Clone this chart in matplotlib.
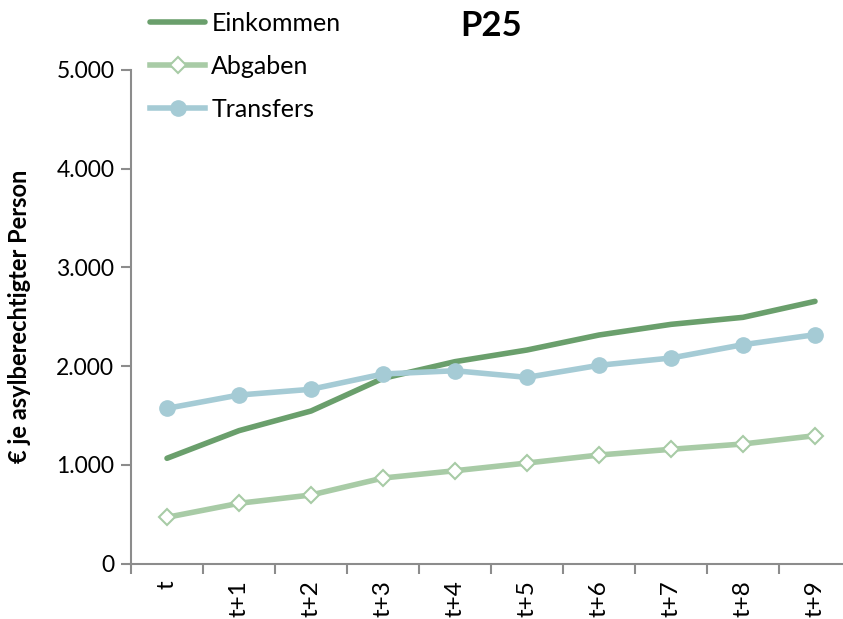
import matplotlib.pyplot as plt
import numpy as np

plt.rcParams['font.family'] = ['Lato', 'DejaVu Sans']

# values
perioden = ['t', 't+1', 't+2', 't+3', 't+4', 't+5', 't+6', 't+7', 't+8', 't+9']
einkommen = [1066, 1346, 1545, 1876, 2045, 2163, 2315, 2423, 2494, 2656]
abgaben = [468, 610, 694, 866, 940, 1018, 1099, 1157, 1211, 1295]
transfers = [1572, 1707, 1765, 1920, 1953, 1886, 2008, 2082, 2217, 2318]
yticks = [0, 1000, 2000, 3000, 4000, 5000]
ytick_labels = ['0', '1.000', '2.000', '3.000', '4.000', '5.000']

c_ein = '#6a9f6c'
c_abg = '#a8cba6'
c_tra = '#a5cbd5'
grey = '#8c8c8c'

fig = plt.figure(figsize=(8.43, 6.19), dpi=100)
ax = fig.add_axes([131/843, 1-563.5/619, 720/843, 493.5/619])

x = np.arange(len(perioden))
ax.plot(x, einkommen, color=c_ein, lw=4, solid_capstyle='round', label='Einkommen')
ax.plot(x, abgaben, color=c_abg, lw=4, marker='D', markersize=8,
        markerfacecolor='white', markeredgecolor=c_abg, markeredgewidth=1.5, label='Abgaben')
ax.plot(x, transfers, color=c_tra, lw=4, marker='o', markersize=11,
        markerfacecolor=c_tra, markeredgecolor=c_tra, label='Transfers')

ax.set_xlim(-0.5, len(perioden) - 0.5)
ax.set_ylim(0, 5000)

ax.set_yticks(yticks)
ax.set_yticklabels(ytick_labels, fontsize=16.5)
ax.set_xticks(x)
ax.set_xticklabels(perioden, rotation=90, fontsize=17.5)
ax.set_xticks(np.arange(len(perioden) + 1) - 0.5, minor=True)
ax.tick_params(axis='x', which='major', length=0, pad=12)
ax.tick_params(axis='x', which='minor', length=7, width=1.5, color=grey, direction='out')
ax.tick_params(axis='y', length=7, width=1.5, color=grey, direction='out', pad=5)

for s in ['top', 'right']:
    ax.spines[s].set_visible(False)
for s in ['left', 'bottom']:
    ax.spines[s].set_color(grey)
    ax.spines[s].set_linewidth(1.5)

ax.set_ylabel('€ je asylberechtigter Person', fontsize=17, fontweight='bold', labelpad=18)

fig.text(491/843, 1-26/619, 'P25', fontsize=25, fontweight='bold', ha='center', va='center')

ax.legend(loc='upper left', bbox_to_anchor=(150/843, 1-12/619), bbox_transform=fig.transFigure,
          frameon=False, fontsize=18, handlelength=2.2, handletextpad=0.25, labelspacing=0.8,
          borderpad=0, borderaxespad=0)

fig.savefig('out.png', dpi=100)
